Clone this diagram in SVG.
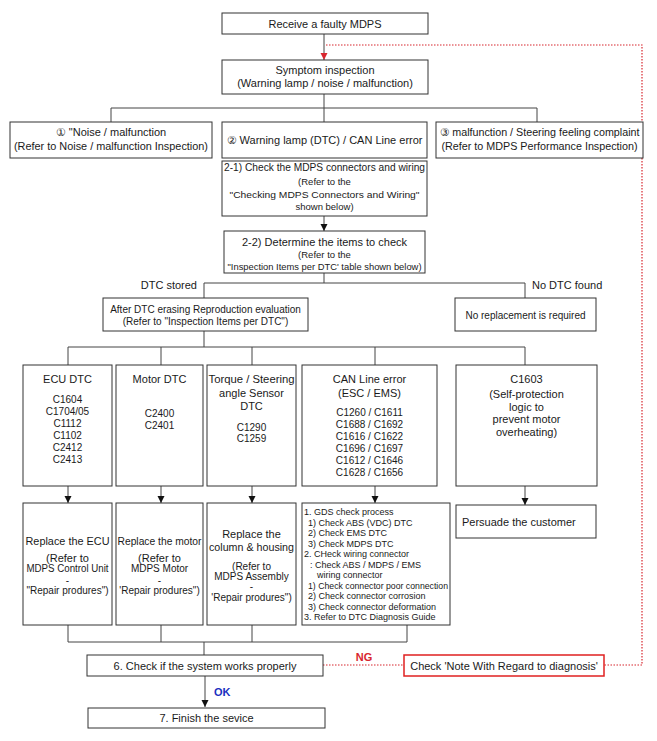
<svg xmlns="http://www.w3.org/2000/svg" width="657" height="741" viewBox="0 0 657 741">
<style>
text{font-family:"Liberation Sans",Arial,sans-serif;fill:#1a1a1a;font-size:11px}
.b{fill:#fff;stroke:#333;stroke-width:1}
.c{fill:none;stroke:#444;stroke-width:1}
.m{text-anchor:middle}
.s{font-size:10px}
.xs{font-size:9.5px}
.t{font-size:9px}
.red{fill:none;stroke:#d8262e;stroke-width:1.2;stroke-dasharray:1.5 1.5}
</style>
<defs>
<marker id="ar" markerWidth="8" markerHeight="8" refX="7" refY="4" orient="auto" markerUnits="userSpaceOnUse"><path d="M0,0.5 L7,4 L0,7.5 Z" fill="#111"/></marker>
<marker id="arr" markerWidth="8" markerHeight="8" refX="7" refY="4" orient="auto" markerUnits="userSpaceOnUse"><path d="M0,0.5 L7,4 L0,7.5 Z" fill="#d8262e"/></marker>
</defs>
<rect width="657" height="741" fill="#fff"/>
<g id="connectors">
<path class="c" d="M324,34 V60" marker-end="url(#arr)"/>
<path class="red" d="M326,45 H642 V665 H604"/>
<path class="red" d="M323,665 H404"/>
<path class="c" d="M324,94 V108 M111,108 H537 M111,108 V122 M324,108 V122 M537,108 V122"/>
<path class="c" d="M324,216 V231" marker-end="url(#ar)"/>
<path class="c" d="M324,273 V283 M204,283 H525 M204,283 V298 M525,283 V298"/>
<path class="c" d="M204,331 V347 M68,347 H525 M68,347 V365 M161,347 V365 M252,347 V365 M375,347 V365 M525,347 V365"/>
<path class="c" d="M68,486 V503" marker-end="url(#ar)"/>
<path class="c" d="M161,486 V503" marker-end="url(#ar)"/>
<path class="c" d="M252,486 V503" marker-end="url(#ar)"/>
<path class="c" d="M375,486 V503" marker-end="url(#ar)"/>
<path class="c" d="M525,486 V505" marker-end="url(#ar)"/>
<path class="c" d="M68,625 V642 M161,625 V642 M252,625 V642 M407,625 V642 M68,642 H407 M204,642 V655"/>
<path class="c" d="M205,676 V707" marker-end="url(#ar)"/>
<text x="364" y="661" class="m" style="fill:#d8262e;font-weight:bold;font-size:11px">NG</text>
<text x="214" y="696" style="fill:#1a2fc0;font-weight:bold;font-size:11px">OK</text>
</g>
<g id="receive"><rect class="b" x="222" y="13" width="206" height="21"/><text x="325" y="27.5" class="m">Receive a faulty MDPS</text></g>
<g id="symptom"><rect class="b" x="222" y="60" width="206" height="34"/><text x="325" y="74" class="m">Symptom inspection</text><text x="325" y="87" class="m">(Warning lamp / noise / malfunction)</text></g>
<g id="noise"><rect class="b" x="10" y="122" width="202" height="36"/><text x="111" y="136" class="m">① "Noise / malfunction</text><text x="111" y="150" class="m" textLength="194" lengthAdjust="spacingAndGlyphs">(Refer to Noise / malfunction Inspection)</text></g>
<g id="warning"><rect class="b" x="222" y="122" width="205" height="36"/><text x="324.5" y="144" class="m" textLength="196" lengthAdjust="spacingAndGlyphs">② Warning lamp (DTC) / CAN Line error</text></g>
<g id="steering"><rect class="b" x="436" y="122" width="207" height="36"/><text x="539.5" y="136" class="m" textLength="200" lengthAdjust="spacingAndGlyphs">③ malfunction / Steering feeling complaint</text><text x="539.5" y="150" class="m" textLength="196" lengthAdjust="spacingAndGlyphs">(Refer to MDPS Performance Inspection)</text></g>
<g id="check21"><rect class="b" x="222" y="161" width="205" height="55"/><text x="324.5" y="171" class="m" textLength="201" lengthAdjust="spacingAndGlyphs">2-1) Check the MDPS connectors and wiring</text><text x="324.5" y="185" class="m xs">(Refer to the</text><text x="324.5" y="198" class="m xs" textLength="190" lengthAdjust="spacingAndGlyphs">"Checking  MDPS Connectors and Wiring"</text><text x="324.5" y="210" class="m xs">shown below)</text></g>
<g id="check22"><rect class="b" x="224" y="231" width="201" height="42"/><text x="324.5" y="246" class="m">2-2) Determine the items to check</text><text x="324.5" y="258" class="m xs">(Refer to the</text><text x="324.5" y="270" class="m xs" textLength="194" lengthAdjust="spacingAndGlyphs">"Inspection Items per DTC' table shown below)</text></g>
<text x="197" y="289" style="text-anchor:end">DTC stored</text>
<text x="532" y="289">No DTC found</text>
<g id="reproduction"><rect class="b" x="103" y="298" width="205" height="33"/><text x="205.5" y="313" class="m s">After DTC erasing Reproduction evaluation</text><text x="205.5" y="325" class="m s">(Refer to "Inspection Items per DTC")</text></g>
<g id="noreplace"><rect class="b" x="455" y="298" width="141" height="33"/><text x="525.5" y="319" class="m s">No replacement is required</text></g>
<g id="ecudtc"><rect class="b" x="23" y="365" width="89" height="121"/><text x="67.5" y="383" class="m">ECU DTC</text><text x="67.5" y="403" class="m s">C1604</text><text x="67.5" y="415" class="m s">C1704/05</text><text x="67.5" y="427" class="m s">C1112</text><text x="67.5" y="439" class="m s">C1102</text><text x="67.5" y="451" class="m s">C2412</text><text x="67.5" y="463" class="m s">C2413</text></g>
<g id="motordtc"><rect class="b" x="116" y="365" width="87" height="121"/><text x="159.5" y="383" class="m">Motor DTC</text><text x="159.5" y="417" class="m s">C2400</text><text x="159.5" y="429" class="m s">C2401</text></g>
<g id="torquedtc"><rect class="b" x="207" y="365" width="89" height="121"/><text x="251.5" y="383" class="m" textLength="86" lengthAdjust="spacingAndGlyphs">Torque / Steering</text><text x="251.5" y="397" class="m">angle Sensor</text><text x="251.5" y="410" class="m">DTC</text><text x="251.5" y="431" class="m s">C1290</text><text x="251.5" y="442" class="m s">C1259</text></g>
<g id="candtc"><rect class="b" x="302" y="365" width="135" height="121"/><text x="369.5" y="383" class="m">CAN Line error</text><text x="369.5" y="397" class="m">(ESC / EMS)</text><text x="369.5" y="416" class="m s">C1260 / C1611</text><text x="369.5" y="428" class="m s">C1688 / C1692</text><text x="369.5" y="440" class="m s">C1616 / C1622</text><text x="369.5" y="452" class="m s">C1696 / C1697</text><text x="369.5" y="464" class="m s">C1612 / C1646</text><text x="369.5" y="476" class="m s">C1628 / C1656</text></g>
<g id="c1603"><rect class="b" x="456" y="365" width="141" height="121"/><text x="526.5" y="383" class="m">C1603</text><text x="526.5" y="398" class="m">(Self-protection</text><text x="526.5" y="411" class="m">logic to</text><text x="526.5" y="423" class="m">prevent motor</text><text x="526.5" y="436" class="m">overheating)</text></g>
<g id="replaceecu"><rect class="b" x="23" y="503" width="89" height="122"/><text x="67.5" y="545" class="m" textLength="84" lengthAdjust="spacingAndGlyphs">Replace the ECU</text><text x="67.5" y="562" class="m">(Refer to</text><text x="67.5" y="572" class="m s" textLength="82" lengthAdjust="spacingAndGlyphs">MDPS Control Unit</text><text x="67.5" y="584" class="m s">-</text><text x="67.5" y="594" class="m s">"Repair produres")</text></g>
<g id="replacemotor"><rect class="b" x="116" y="503" width="87" height="122"/><text x="159.5" y="545" class="m" textLength="84" lengthAdjust="spacingAndGlyphs">Replace the motor</text><text x="159.5" y="562" class="m">(Refer to</text><text x="159.5" y="572" class="m s">MDPS Motor</text><text x="159.5" y="584" class="m s">-</text><text x="159.5" y="594" class="m s">'Repair produres")</text></g>
<g id="replacecolumn"><rect class="b" x="207" y="503" width="89" height="122"/><text x="251.5" y="538" class="m">Replace the</text><text x="251.5" y="551" class="m" textLength="85" lengthAdjust="spacingAndGlyphs">column &amp; housing</text><text x="251.5" y="570" class="m s">(Refer to</text><text x="251.5" y="580" class="m s">MDPS Assembly</text><text x="251.5" y="590" class="m s">-</text><text x="251.5" y="601" class="m s">'Repair produres")</text></g>
<g id="gdscheck"><rect class="b" x="302" y="503" width="148" height="122"/>
<text x="304" y="515" class="t">1. GDS check process</text>
<text x="308" y="525.5" class="t">1) Check ABS (VDC) DTC</text>
<text x="308" y="536" class="t">2) Check EMS DTC</text>
<text x="308" y="546.5" class="t">3) Check MDPS DTC</text>
<text x="304" y="557" class="t">2. CHeck wiring connector</text>
<text x="310" y="567.5" class="t">: Check ABS / MDPS / EMS</text>
<text x="317" y="578" class="t">wiring connector</text>
<text x="308" y="588.5" class="t" textLength="140" lengthAdjust="spacingAndGlyphs">1) Check connector poor connection</text>
<text x="308" y="599" class="t">2) Check connector corrosion</text>
<text x="308" y="609.5" class="t">3) Check connector deformation</text>
<text x="304" y="620" class="t">3. Refer to DTC Diagnosis Guide</text></g>
<g id="persuade"><rect class="b" x="456" y="505" width="140" height="33"/><text x="462" y="526">Persuade the customer</text></g>
<g id="checksystem"><rect class="b" x="87" y="655" width="236" height="21"/><text x="205" y="669.5" class="m">6. Check if the system  works properly</text></g>
<g id="note"><rect x="404" y="655" width="200" height="21" fill="#fff" stroke="#e02020" stroke-width="1.5"/><text x="504" y="669.5" class="m">Check 'Note With Regard to diagnosis'</text></g>
<g id="finish"><rect class="b" x="88" y="708" width="237" height="20"/><text x="206.5" y="722" class="m">7. Finish the sevice</text></g>
</svg>
